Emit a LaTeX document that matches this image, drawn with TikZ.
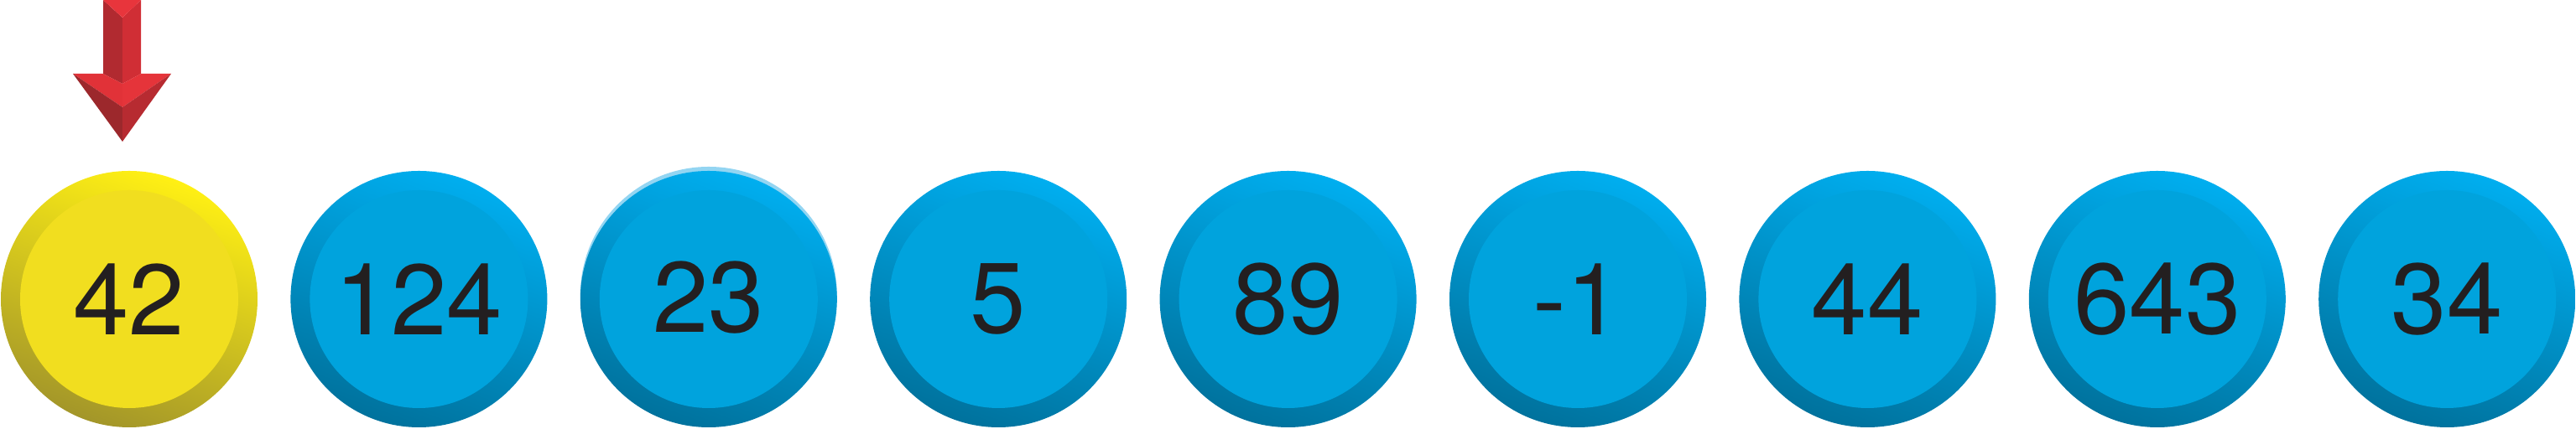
\documentclass[tikz,border=0pt]{standalone}
\usepackage{fontspec}
\setmainfont{TeX Gyre Heros}
\usepackage{xcolor}
\usetikzlibrary{positioning, backgrounds, calc}

\definecolor{ringtop}{HTML}{00AEEF}
\definecolor{ringbot}{HTML}{00729D}
\definecolor{blueface}{HTML}{00A3DD}
\definecolor{ytop}{HTML}{FFF014}
\definecolor{ybot}{HTML}{A39629}
\definecolor{yface}{HTML}{F1DE1F}
\definecolor{digit}{HTML}{231F20}
\definecolor{rimlight}{HTML}{93D5F2}
\definecolor{arrowcap}{HTML}{E8353C}
\definecolor{shaftL}{HTML}{B12A30}
\definecolor{shaftR}{HTML}{D02E35}
\definecolor{bevelL}{HTML}{E13238}
\definecolor{bevelR}{HTML}{E5343A}
\definecolor{lowL}{HTML}{9C282C}
\definecolor{lowR}{HTML}{B72B31}

\tikzset{
  ball/.style={
    circle, minimum size=3.06cm, inner sep=0pt, outer sep=0pt,
    top color=ringtop, bottom color=ringbot, shading angle=-20,
    path picture={\fill[#1] (path picture bounding box.center) circle (1.30cm);},
    font=\fontsize{34}{40}\selectfont, text=digit
  },
  ball/.default=blueface,
  chosen/.style={top color=ytop, bottom color=ybot, shading angle=-20}
}

\begin{document}
\begin{tikzpicture}[node distance=0.394cm]
  \useasboundingbox (0,0) rectangle (30.71,5.12);

  \node[ball=yface, chosen] (b1) at (1.54,1.55) {42};
  \node[ball, right=of b1] (b2) {124};
  \node[ball, right=of b2] (b3) {\raisebox{0.05cm}{23}};
  \node[ball, right=of b3] (b4) {5};
  \node[ball, right=of b4] (b5) {89};
  \node[ball, right=of b5] (b6) {-1};
  \node[ball, right=of b6] (b7) {44};
  \node[ball, right=of b7] (b8) {643};
  \node[ball, right=of b8] (b9) {34};

  % light rim behind the third ball
  \begin{scope}[on background layer]
    \fill[rimlight] ([yshift=0.05cm]b3.center) circle (1.53cm);
  \end{scope}

  % pointer above the first ball
  \coordinate (tip) at ([shift={(-0.08,0.35)}]b1.north);
  \begin{scope}[shift={(tip)}]
    \fill[shaftL] (-0.23,1.69) -- (0,1.48) -- (0,0.69) -- (-0.23,0.81) -- cycle;
    \fill[shaftR] (0.22,1.69) -- (0,1.48) -- (0,0.69) -- (0.22,0.81) -- cycle;
    \fill[arrowcap] (-0.23,1.69) -- (0.22,1.69) -- (0,1.48) -- cycle;
    \fill[bevelL] (-0.59,0.81) -- (-0.23,0.81) -- (0,0.69) -- (0,0.41) -- cycle;
    \fill[bevelR] (0.58,0.81) -- (0.22,0.81) -- (0,0.69) -- (0,0.41) -- cycle;
    \fill[lowL] (-0.59,0.81) -- (0,0.41) -- (0,0) -- cycle;
    \fill[lowR] (0.58,0.81) -- (0,0.41) -- (0,0) -- cycle;
  \end{scope}
\end{tikzpicture}
\end{document}
